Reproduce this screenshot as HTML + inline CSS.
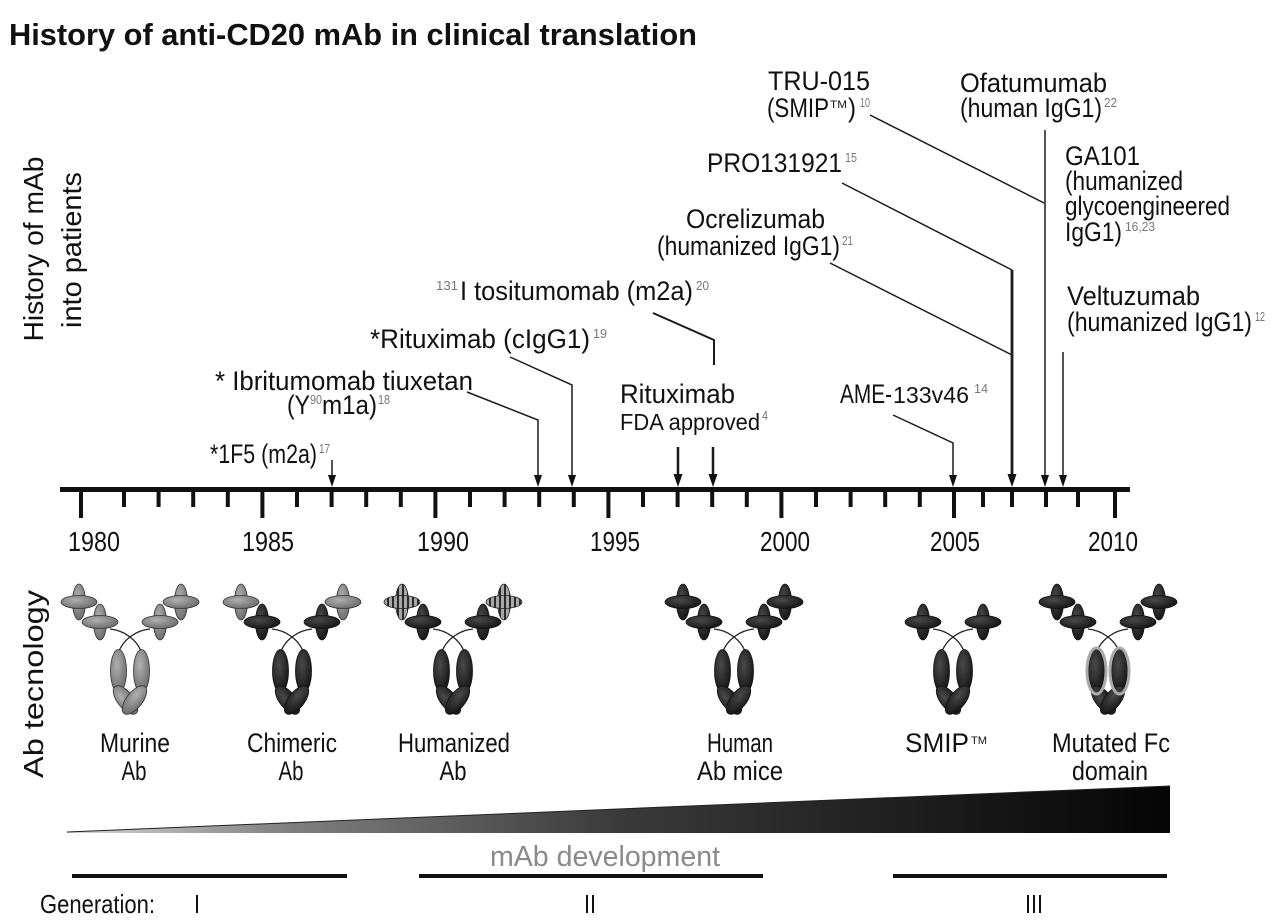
<!DOCTYPE html>
<html><head><meta charset="utf-8"><style>
html,body{margin:0;padding:0;background:#fff;}
svg{display:block;}
text{font-family:"Liberation Sans Narrow","Liberation Sans",sans-serif;fill:#111;}
.s{fill:#777;font-size:13px;}
</style></head><body>
<svg width="1280" height="920" viewBox="0 0 1280 920" xmlns="http://www.w3.org/2000/svg">
<defs>
<radialGradient id="gD" cx="40%" cy="35%" r="70%"><stop offset="0" stop-color="#4a4a4a"/><stop offset="1" stop-color="#141414"/></radialGradient>
<radialGradient id="gG" cx="40%" cy="35%" r="70%"><stop offset="0" stop-color="#b0b0b0"/><stop offset="1" stop-color="#6a6a6a"/></radialGradient>
<pattern id="stripe" width="5" height="10" patternUnits="userSpaceOnUse"><rect width="5" height="10" fill="#a8a8a8"/><rect width="2" height="10" fill="#2a2a2a"/></pattern>
<linearGradient id="wedge" x1="67" y1="0" x2="1170" y2="0" gradientUnits="userSpaceOnUse">
<stop offset="0" stop-color="#d8d8d8"/><stop offset="0.2" stop-color="#808080"/><stop offset="0.5" stop-color="#3a3a3a"/><stop offset="1" stop-color="#050505"/></linearGradient>
<g id="crossD"><ellipse rx="6.5" ry="18" fill="url(#gD)" stroke="#111" stroke-width="0.8"/><ellipse rx="18" ry="6.5" fill="url(#gD)" stroke="#111" stroke-width="0.8"/></g>
<g id="crossG"><ellipse rx="6.5" ry="18" fill="url(#gG)" stroke="#333" stroke-width="0.8"/><ellipse rx="18" ry="6.5" fill="url(#gG)" stroke="#333" stroke-width="0.8"/></g>
<g id="crossS"><ellipse rx="6.5" ry="18" fill="url(#stripe)" stroke="#222" stroke-width="0.8"/><ellipse rx="18" ry="6.5" fill="url(#stripe)" stroke="#222" stroke-width="0.8"/></g>
<g id="stemD">
<path d="M-20,44 Q-9,45 0,52 M20,44 Q9,45 0,52 M0,52 Q-7,57 -11,66 M0,52 Q7,57 11,66" fill="none" stroke="#222" stroke-width="1.3"/>
<ellipse cx="-11.5" cy="86" rx="8" ry="21.5" fill="url(#gD)" stroke="#111" stroke-width="0.8"/>
<ellipse cx="11.5" cy="86" rx="8" ry="21.5" fill="url(#gD)" stroke="#111" stroke-width="0.8"/>
<ellipse cx="-4.5" cy="115" rx="8" ry="17" transform="rotate(-38 -4.5 115)" fill="url(#gD)" stroke="#111" stroke-width="0.8"/>
<ellipse cx="4.5" cy="115" rx="8" ry="17" transform="rotate(38 4.5 115)" fill="url(#gD)" stroke="#111" stroke-width="0.8"/>
</g>
<g id="stemG">
<path d="M-20,44 Q-9,45 0,52 M20,44 Q9,45 0,52 M0,52 Q-7,57 -11,66 M0,52 Q7,57 11,66" fill="none" stroke="#222" stroke-width="1.3"/>
<ellipse cx="-11.5" cy="86" rx="8" ry="21.5" fill="url(#gG)" stroke="#333" stroke-width="0.8"/>
<ellipse cx="11.5" cy="86" rx="8" ry="21.5" fill="url(#gG)" stroke="#333" stroke-width="0.8"/>
<ellipse cx="-4.5" cy="115" rx="8" ry="17" transform="rotate(-38 -4.5 115)" fill="url(#gG)" stroke="#333" stroke-width="0.8"/>
<ellipse cx="4.5" cy="115" rx="8" ry="17" transform="rotate(38 4.5 115)" fill="url(#gG)" stroke="#333" stroke-width="0.8"/>
</g>
</defs>

<!-- Title -->
<text x="9" y="45" font-size="31" font-weight="bold" textLength="688" lengthAdjust="spacingAndGlyphs">History of anti-CD20 mAb in clinical translation</text>

<!-- rotated side labels -->
<text transform="translate(43,249) rotate(-90)" text-anchor="middle" font-size="28" textLength="185" lengthAdjust="spacingAndGlyphs">History of mAb</text>
<text transform="translate(81,250) rotate(-90)" text-anchor="middle" font-size="28" textLength="156" lengthAdjust="spacingAndGlyphs">into patients</text>
<text transform="translate(43,684) rotate(-90)" text-anchor="middle" font-size="28" textLength="188" lengthAdjust="spacingAndGlyphs">Ab tecnology</text>

<!-- top labels -->
<g font-size="27">
<text x="768" y="90" textLength="102" lengthAdjust="spacingAndGlyphs">TRU-015</text>
<text x="767" y="117" textLength="62" lengthAdjust="spacingAndGlyphs">(SMIP</text>
<text x="830" y="108" font-size="11" textLength="17" lengthAdjust="spacingAndGlyphs">TM</text>
<text x="848" y="117" textLength="8" lengthAdjust="spacingAndGlyphs">)</text>
<text x="860" y="107" class="s" textLength="10" lengthAdjust="spacingAndGlyphs">10</text>

<text x="960" y="92" textLength="147" lengthAdjust="spacingAndGlyphs">Ofatumumab</text>
<text x="960" y="117" textLength="142" lengthAdjust="spacingAndGlyphs">(human IgG1)</text>
<text x="1104" y="107" class="s" textLength="13" lengthAdjust="spacingAndGlyphs">22</text>

<text x="707" y="172" textLength="135" lengthAdjust="spacingAndGlyphs">PRO131921</text>
<text x="845" y="162" class="s" textLength="12" lengthAdjust="spacingAndGlyphs">15</text>

<text x="686" y="228" textLength="139" lengthAdjust="spacingAndGlyphs">Ocrelizumab</text>
<text x="657" y="255" textLength="183" lengthAdjust="spacingAndGlyphs">(humanized IgG1)</text>
<text x="842" y="245" class="s" textLength="11" lengthAdjust="spacingAndGlyphs">21</text>

<text x="436" y="290" class="s" textLength="22" lengthAdjust="spacingAndGlyphs">131</text>
<text x="460" y="300" textLength="233" lengthAdjust="spacingAndGlyphs">I tositumomab (m2a)</text>
<text x="696" y="290" class="s" textLength="13" lengthAdjust="spacingAndGlyphs">20</text>

<text x="370" y="348" textLength="220" lengthAdjust="spacingAndGlyphs">*Rituximab (cIgG1)</text>
<text x="593" y="338" class="s" textLength="14" lengthAdjust="spacingAndGlyphs">19</text>

<text x="215" y="390" textLength="258" lengthAdjust="spacingAndGlyphs">* Ibritumomab tiuxetan</text>
<text x="287" y="414" textLength="23" lengthAdjust="spacingAndGlyphs">(Y</text>
<text x="310" y="404" class="s" textLength="12" lengthAdjust="spacingAndGlyphs">90</text>
<text x="322" y="414" textLength="55" lengthAdjust="spacingAndGlyphs">m1a)</text>
<text x="378" y="404" class="s" textLength="12" lengthAdjust="spacingAndGlyphs">18</text>

<text x="210" y="463" textLength="107" lengthAdjust="spacingAndGlyphs">*1F5 (m2a)</text>
<text x="319" y="453" class="s" textLength="11" lengthAdjust="spacingAndGlyphs">17</text>

<text x="620" y="403" textLength="115" lengthAdjust="spacingAndGlyphs">Rituximab</text>
<text x="620" y="430" font-size="23" textLength="140" lengthAdjust="spacingAndGlyphs">FDA approved</text>
<text x="762" y="420" class="s" font-size="12" textLength="6" lengthAdjust="spacingAndGlyphs">4</text>

<text x="840" y="403" textLength="52" lengthAdjust="spacingAndGlyphs">AME-</text>
<text x="893" y="403" font-size="23" textLength="76" lengthAdjust="spacingAndGlyphs">133v46</text>
<text x="974" y="393" class="s" textLength="14" lengthAdjust="spacingAndGlyphs">14</text>

<text x="1065" y="165" textLength="75" lengthAdjust="spacingAndGlyphs">GA101</text>
<text x="1065" y="190" textLength="118" lengthAdjust="spacingAndGlyphs">(humanized</text>
<text x="1065" y="215" textLength="165" lengthAdjust="spacingAndGlyphs">glycoengineered</text>
<text x="1065" y="241" textLength="57" lengthAdjust="spacingAndGlyphs">IgG1)</text>
<text x="1125" y="231" class="s" textLength="30" lengthAdjust="spacingAndGlyphs">16,23</text>

<text x="1067" y="305" textLength="133" lengthAdjust="spacingAndGlyphs">Veltuzumab</text>
<text x="1067" y="331" textLength="185" lengthAdjust="spacingAndGlyphs">(humanized IgG1)</text>
<text x="1255" y="321" class="s" textLength="10" lengthAdjust="spacingAndGlyphs">12</text>
</g>

<!-- connector lines -->
<g fill="none" stroke="#1a1a1a" stroke-width="1.5">
<polyline points="870,115 1044,203"/>
<line x1="1045" y1="130" x2="1045" y2="480"/>
<polyline points="842,183 1012,270"/>
<polyline points="830,263 1012,355"/>
<line x1="1012" y1="270" x2="1012" y2="480" stroke-width="2.8"/>
<line x1="1063" y1="352" x2="1063" y2="480"/>
<polyline points="653,313 714,340 714,365" stroke-width="2"/>
<polyline points="510,357 572,385 572,480"/>
<polyline points="467,392 538,420 538,480"/>
<line x1="332" y1="460" x2="332" y2="480"/>
<line x1="678" y1="447" x2="678" y2="480" stroke-width="2.5"/>
<line x1="713" y1="447" x2="713" y2="480" stroke-width="2.5"/>
<polyline points="893,415 953,443 953,480"/>
</g>
<g fill="#111">
<path d="M328,475 L336,475 L332,487 Z"/>
<path d="M534,475 L542,475 L538,487 Z"/>
<path d="M568,475 L576,475 L572,487 Z"/>
<path d="M673.5,474 L682.5,474 L678,487 Z"/>
<path d="M708.5,474 L717.5,474 L713,487 Z"/>
<path d="M949,475 L957,475 L953,487 Z"/>
<path d="M1007.5,474 L1016.5,474 L1012,487 Z"/>
<path d="M1041,475 L1049,475 L1045,487 Z"/>
<path d="M1059,475 L1067,475 L1063,487 Z"/>
</g>

<!-- axis -->
<rect x="60" y="487" width="1070" height="5" fill="#111"/>
<g fill="#111">
<rect x="79" y="490" width="4" height="28"/>
<rect x="122" y="490" width="4" height="17"/>
<rect x="156.6" y="490" width="4" height="17"/>
<rect x="191.2" y="490" width="4" height="17"/>
<rect x="225.8" y="490" width="4" height="17"/>
<rect x="260.4" y="490" width="4" height="28"/>
<rect x="295" y="490" width="4" height="17"/>
<rect x="329.6" y="490" width="4" height="17"/>
<rect x="364.2" y="490" width="4" height="17"/>
<rect x="398.8" y="490" width="4" height="17"/>
<rect x="433.4" y="490" width="4" height="28"/>
<rect x="468" y="490" width="4" height="17"/>
<rect x="502.6" y="490" width="4" height="17"/>
<rect x="537.2" y="490" width="4" height="17"/>
<rect x="571.8" y="490" width="4" height="17"/>
<rect x="606.4" y="490" width="4" height="28"/>
<rect x="641" y="490" width="4" height="17"/>
<rect x="675.6" y="490" width="4" height="17"/>
<rect x="710.2" y="490" width="4" height="17"/>
<rect x="744.8" y="490" width="4" height="17"/>
<rect x="779.4" y="490" width="4" height="28"/>
<rect x="814" y="490" width="4" height="17"/>
<rect x="848.6" y="490" width="4" height="17"/>
<rect x="883.2" y="490" width="4" height="17"/>
<rect x="917.8" y="490" width="4" height="17"/>
<rect x="952" y="490" width="4" height="28"/>
<rect x="981" y="490" width="4" height="17"/>
<rect x="1010" y="490" width="4" height="17"/>
<rect x="1044" y="490" width="4" height="17"/>
<rect x="1076" y="490" width="4" height="17"/>
<rect x="1113" y="490" width="4" height="28"/>
</g>
<g font-size="28" text-anchor="middle">
<text x="94" y="551" textLength="52" lengthAdjust="spacingAndGlyphs">1980</text>
<text x="268" y="551" textLength="52" lengthAdjust="spacingAndGlyphs">1985</text>
<text x="443" y="551" textLength="52" lengthAdjust="spacingAndGlyphs">1990</text>
<text x="615" y="551" textLength="50" lengthAdjust="spacingAndGlyphs">1995</text>
<text x="785" y="551" textLength="50" lengthAdjust="spacingAndGlyphs">2000</text>
<text x="955" y="551" textLength="50" lengthAdjust="spacingAndGlyphs">2005</text>
<text x="1113" y="551" textLength="50" lengthAdjust="spacingAndGlyphs">2010</text>
</g>

<!-- antibodies -->
<g transform="translate(130,585)">
<use href="#stemG"/>
<use href="#crossG" x="-51" y="17"/><use href="#crossG" x="51" y="17"/>
<use href="#crossG" x="-30" y="37"/><use href="#crossG" x="30" y="37"/>
</g>
<g transform="translate(292,585)">
<use href="#stemD"/>
<use href="#crossG" x="-51" y="17"/><use href="#crossG" x="51" y="17"/>
<use href="#crossD" x="-30" y="37"/><use href="#crossD" x="30" y="37"/>
</g>
<g transform="translate(453,585)">
<use href="#stemD"/>
<use href="#crossS" x="-51" y="17"/><use href="#crossS" x="51" y="17"/>
<use href="#crossD" x="-30" y="37"/><use href="#crossD" x="30" y="37"/>
</g>
<g transform="translate(734,585)">
<use href="#stemD"/>
<use href="#crossD" x="-51" y="17"/><use href="#crossD" x="51" y="17"/>
<use href="#crossD" x="-30" y="37"/><use href="#crossD" x="30" y="37"/>
</g>
<g transform="translate(953,585)">
<use href="#stemD"/>
<use href="#crossD" x="-30" y="37"/><use href="#crossD" x="30" y="37"/>
</g>
<g transform="translate(1108,585)">
<use href="#stemD"/>
<use href="#crossD" x="-51" y="17"/><use href="#crossD" x="51" y="17"/>
<use href="#crossD" x="-30" y="37"/><use href="#crossD" x="30" y="37"/>
<ellipse cx="-11.5" cy="86" rx="9.5" ry="23" fill="none" stroke="#aaa" stroke-width="3"/>
<ellipse cx="11.5" cy="86" rx="9.5" ry="23" fill="none" stroke="#aaa" stroke-width="3"/>
</g>

<!-- antibody labels -->
<g font-size="27" text-anchor="middle">
<text x="135" y="752" textLength="70" lengthAdjust="spacingAndGlyphs">Murine</text>
<text x="134" y="780" textLength="25" lengthAdjust="spacingAndGlyphs">Ab</text>
<text x="292" y="752" textLength="90" lengthAdjust="spacingAndGlyphs">Chimeric</text>
<text x="291" y="780" textLength="25" lengthAdjust="spacingAndGlyphs">Ab</text>
<text x="454" y="752" textLength="112" lengthAdjust="spacingAndGlyphs">Humanized</text>
<text x="453" y="780" textLength="27" lengthAdjust="spacingAndGlyphs">Ab</text>
<text x="740" y="752" textLength="66" lengthAdjust="spacingAndGlyphs">Human</text>
<text x="740" y="780" textLength="86" lengthAdjust="spacingAndGlyphs">Ab mice</text>
<text x="1111" y="752" textLength="118" lengthAdjust="spacingAndGlyphs">Mutated Fc</text>
<text x="1110" y="780" textLength="76" lengthAdjust="spacingAndGlyphs">domain</text>
</g>
<text x="905" y="752" font-size="27" textLength="64" lengthAdjust="spacingAndGlyphs">SMIP</text>
<text x="971" y="744" font-size="11" textLength="16" lengthAdjust="spacingAndGlyphs">TM</text>

<!-- wedge -->
<polygon points="67,832 1170,786 1170,833 67,833" fill="url(#wedge)"/>
<line x1="67" y1="832" x2="1170" y2="786" stroke="#222" stroke-width="1"/>

<!-- mAb development -->
<text x="490" y="866" font-size="29" style="fill:#8a8a8a" textLength="230" lengthAdjust="spacingAndGlyphs">mAb development</text>
<g fill="#111">
<rect x="72" y="874" width="275" height="4"/>
<rect x="419" y="874" width="344" height="4"/>
<rect x="893" y="874" width="274" height="4"/>
</g>
<g font-size="26">
<text x="40" y="913" textLength="115" lengthAdjust="spacingAndGlyphs">Generation:</text>
<text x="194" y="913" textLength="6" lengthAdjust="spacingAndGlyphs">I</text>
<text x="584" y="913" textLength="12" lengthAdjust="spacingAndGlyphs">II</text>
<text x="1025" y="913" textLength="18" lengthAdjust="spacingAndGlyphs">III</text>
</g>
</svg>
</body></html>
